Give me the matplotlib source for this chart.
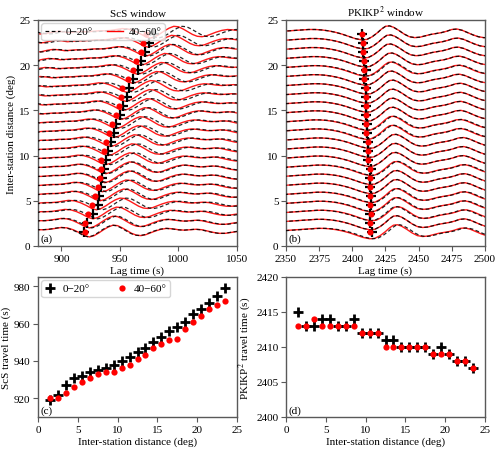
import numpy as np
import matplotlib
matplotlib.use("Agg")
import matplotlib.pyplot as plt
from matplotlib.lines import Line2D

plt.rcParams['font.family'] = ['Liberation Serif', 'DejaVu Serif']
plt.rcParams['mathtext.fontset'] = 'stix'

# ---------------- data ----------------
distance = [1.5, 2.5, 3.5, 4.5, 5.5, 6.5, 7.5, 8.5, 9.5, 10.5, 11.5, 12.5,
            13.5, 14.5, 15.5, 16.5, 17.5, 18.5, 19.5, 20.5, 21.5, 22.5, 23.5]

scs_0_20 = [919, 922, 927, 931, 932, 934, 935, 936, 938, 940, 942, 945,
            947, 950, 953, 956, 958, 961, 965, 968, 971, 975, 979]
scs_40_60 = [920, 920, 923, 926, 929, 931, 933, 934, 934, 936, 938, 941,
             943, 947, 949, 951, 952, 957, 961, 964, 968, 970, 972]

pkikp_0_20 = [2415, 2413, 2413, 2414, 2414, 2413, 2413, 2414, 2412, 2412, 2412, 2411,
              2411, 2410, 2410, 2410, 2410, 2409, 2410, 2409, 2408, 2408, 2407]
pkikp_40_60 = [2413, 2413, 2414, 2413, 2413, 2413, 2413, 2413, 2412, 2412, 2412, 2410,
               2410, 2410, 2410, 2410, 2410, 2409, 2409, 2409, 2408, 2408, 2407]

# waveform templates (lag relative to pick, amplitude in deg)
scs_wave_lag = [-100, -95, -90, -85, -80, -75, -70, -65, -60, -55, -50, -45, -40, -35,
                -30, -25, -20, -15, -10, -5, 0, 4, 8, 12, 16, 20, 24, 28, 32, 36, 40,
                44, 48, 52, 56, 60, 65, 70, 75, 80, 85, 90, 95, 100, 105, 110, 115,
                120, 125, 130, 135]
scs_wave_amp = [0.15, 0.05, -0.05, 0.0, 0.15, 0.25, 0.2, 0.1, 0.15, 0.2, 0.2, 0.25, 0.3, 0.3,
                0.35, 0.45, 0.55, 0.5, 0.3, 0.0, -0.35, -0.5, -0.35, -0.05, 0.3, 0.6, 0.8, 0.75,
                0.5, 0.2, -0.1, -0.3, -0.35, -0.25, -0.05, 0.15, 0.35, 0.45, 0.4, 0.3, 0.25,
                0.3, 0.35, 0.3, 0.15, 0.0, -0.1, -0.1, 0.0, 0.1, 0.15]

pk_wave_lag = [-70, -65, -60, -55, -50, -45, -40, -35, -30, -25, -20, -15, -10, -5, 0, 4,
               8, 12, 15, 18, 21, 24, 28, 32, 36, 40, 44, 48, 52, 56, 60, 64, 68, 72, 76,
               80, 84, 88, 92, 96]
pk_wave_amp = [0.15, 0.2, 0.25, 0.3, 0.35, 0.4, 0.45, 0.45, 0.4, 0.3, 0.15, -0.05, -0.3,
               -0.55, -0.7, -0.65, -0.35, 0.1, 0.5, 0.8, 0.85, 0.7, 0.35, -0.05, -0.35,
               -0.45, -0.4, -0.25, -0.1, 0.0, 0.1, 0.25, 0.45, 0.5, 0.35, 0.1, -0.15,
               -0.35, -0.45, -0.45]

# ---------------- figure ----------------
fig = plt.figure(figsize=(5.0, 4.52), dpi=100)
W, H = 500.0, 452.0
def rect(l, t, r, b):
    return [l / W, 1 - b / H, (r - l) / W, (b - t) / H]

ax_a = fig.add_axes(rect(38, 21, 237, 247))
ax_b = fig.add_axes(rect(286, 21, 485, 247))
ax_c = fig.add_axes(rect(38, 278, 237, 418))
ax_d = fig.add_axes(rect(286, 278, 485, 418))

TICK = 8
LAB = 8
spine_c = '0.35'

def style(ax):
    for s in ax.spines.values():
        s.set_color(spine_c)
        s.set_linewidth(1.0)
    ax.tick_params(labelsize=TICK, length=3.5, width=0.8, color=spine_c, pad=2)

def traces(ax, picks_k, picks_r, lag, amp):
    lag = np.asarray(lag, float)
    amp = np.asarray(amp, float)
    for d, pk, pr in zip(distance, picks_k, picks_r):
        ax.plot(lag + pr, amp + d, color='red', lw=1.0, zorder=2, alpha=0.9,
                solid_joinstyle='round')
        ax.plot(lag + pk, amp + d, color='black', lw=0.9, ls=(0, (3, 2)), zorder=3, alpha=0.85)
    ax.plot(picks_k, distance, ls='none', marker='+', color='black', ms=7, mew=1.6, zorder=5)
    ax.plot(picks_r, distance, ls='none', marker='o', color='red', ms=4.4, mew=0, zorder=6)

# (a) ScS window
traces(ax_a, scs_0_20, scs_40_60, scs_wave_lag, scs_wave_amp)
ax_a.set_xlim(880, 1050)
ax_a.set_ylim(0, 25)
ax_a.set_xticks([900, 950, 1000, 1050])
ax_a.set_yticks([0, 5, 10, 15, 20, 25])
ax_a.set_title('ScS window', fontsize=8, pad=3)
ax_a.set_xlabel('Lag time (s)', fontsize=LAB, labelpad=2)
ax_a.set_ylabel('Inter-station distance (deg)', fontsize=LAB, labelpad=2)
ax_a.text(0.015, 0.025, '(a)', transform=ax_a.transAxes, fontsize=8, zorder=10)
h1 = Line2D([], [], color='black', lw=0.9, ls=(0, (3, 2)))
h2 = Line2D([], [], color='red', lw=1.0)
leg = ax_a.legend([h1, h2], ['0\u221220\u00b0', '40\u221260\u00b0'], loc='upper left', ncol=2,
                  fontsize=8, frameon=True, framealpha=0.8, borderpad=0.3, handlelength=1.4,
                  columnspacing=1.3, borderaxespad=0.3, handletextpad=0.5)
leg.set_zorder(20)
style(ax_a)

# (b) PKIKP^2 window
traces(ax_b, pkikp_0_20, pkikp_40_60, pk_wave_lag, pk_wave_amp)
ax_b.set_xlim(2350, 2500)
ax_b.set_ylim(0, 25)
ax_b.set_xticks([2350, 2375, 2400, 2425, 2450, 2475, 2500])
ax_b.set_yticks([0, 5, 10, 15, 20, 25])
ax_b.set_title('PKIKP$^2$ window', fontsize=8, pad=3)
ax_b.set_xlabel('Lag time (s)', fontsize=LAB, labelpad=2)
ax_b.text(0.015, 0.025, '(b)', transform=ax_b.transAxes, fontsize=8, zorder=10)
style(ax_b)

# (c) ScS travel time
ax_c.plot(distance, scs_0_20, ls='none', marker='+', color='black', ms=7.5, mew=2.0,
          label='0\u221220\u00b0', zorder=3)
ax_c.plot(distance, scs_40_60, ls='none', marker='o', color='red', ms=4.5, mew=0,
          label='40\u221260\u00b0', zorder=4)
ax_c.set_xlim(0, 25)
ax_c.set_ylim(910, 985)
ax_c.set_xticks([0, 5, 10, 15, 20, 25])
ax_c.set_yticks([920, 940, 960, 980])
ax_c.set_xlabel('Inter-station distance (deg)', fontsize=LAB, labelpad=2)
ax_c.set_ylabel('ScS travel time (s)', fontsize=LAB, labelpad=2)
ax_c.text(0.015, 0.03, '(c)', transform=ax_c.transAxes, fontsize=8)
ax_c.legend(loc='upper left', ncol=2, fontsize=8, frameon=True, framealpha=0.8,
            borderpad=0.3, handlelength=1.0, columnspacing=2.4, borderaxespad=0.3,
            handletextpad=0.6)
style(ax_c)

# (d) PKIKP^2 travel time
ax_d.plot(distance, pkikp_0_20, ls='none', marker='+', color='black', ms=7.5, mew=2.0, zorder=3)
ax_d.plot(distance, pkikp_40_60, ls='none', marker='o', color='red', ms=4.5, mew=0, zorder=4)
ax_d.set_xlim(0, 25)
ax_d.set_ylim(2400, 2420)
ax_d.set_xticks([0, 5, 10, 15, 20, 25])
ax_d.set_yticks([2400, 2405, 2410, 2415, 2420])
ax_d.set_xlabel('Inter-station distance (deg)', fontsize=LAB, labelpad=2)
ax_d.set_ylabel('PKIKP$^2$ travel time (s)', fontsize=LAB, labelpad=2)
ax_d.text(0.015, 0.03, '(d)', transform=ax_d.transAxes, fontsize=8)
style(ax_d)

fig.savefig('out.png', dpi=100)
